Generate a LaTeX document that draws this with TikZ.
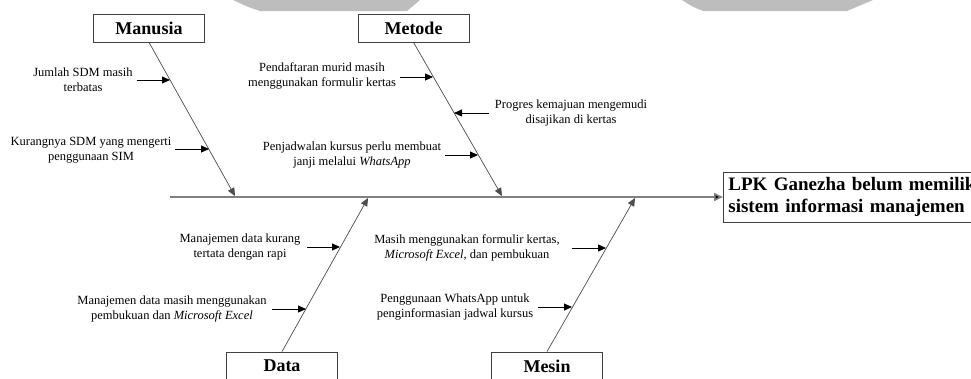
\documentclass[tikz,border=0pt]{standalone}
\usepackage{fontspec}
\setmainfont{Liberation Serif}
\usetikzlibrary{arrows.meta}
\tikzset{
  catbox/.style={draw=black!75, line width=0.8pt, minimum width=111, minimum height=28, inner sep=0pt, font=\fontsize{18}{20}\selectfont\bfseries},
  lbl/.style={align=center, inner sep=0pt, font=\fontsize{12.5}{15}\selectfont},
  bone/.style={draw=black!70, line width=0.7pt, -{Triangle[length=8pt,width=7pt]}},
  spine/.style={draw=black!50, line width=1.6pt, -{Triangle[length=9pt,width=8pt,fill=black]}},
  sub/.style={draw=black, line width=0.8pt, -{Triangle[length=8pt,width=7pt]}},
  wm/.style={fill=black!26, draw=none}
}
\begin{document}
\begin{tikzpicture}[x=1pt,y=-1pt]
\useasboundingbox (0,0) rectangle (971,378);
\clip (0,0) rectangle (971,378);
% grey header shapes
\fill[wm] (233,0) -- (420,0) -- (407,11) -- (260,11) .. controls (248,7) .. (233,0) -- cycle;
\fill[wm] (682,0) -- (873,0) -- (847,11) -- (703,11) .. controls (693,7) .. (682,0) -- cycle;
% category boxes
\node[catbox] (man) at (149,28) {Manusia};
\node[catbox] (met) at (413.5,28) {Metode};
\node[catbox] (dat) at (282,366) {Data};
\node[catbox] (mes) at (547,366) {Mesin};
% effect
\node[draw=black!75, line width=0.8pt, anchor=west, minimum height=50, text width=262, inner xsep=5pt, inner ysep=0pt, align=left,
      font=\fontsize{19}{22}\selectfont\bfseries] (eff) at (723,197) {LPK Ganezha belum memiliki\\sistem informasi manajemen};
% spine
\coordinate (s0) at (170,197);
\draw[spine] (s0) -- (eff.west);
% bone tips
\coordinate (tman) at (235,196);
\coordinate (tmet) at (502,196);
\coordinate (tdat) at (368,198);
\coordinate (tmes) at (635,198);
\draw[bone] (man.south) -- (tman);
\draw[bone] (met.south) -- (tmet);
\draw[bone] (dat.north) -- (tdat);
\draw[bone] (mes.north) -- (tmes);
% Manusia causes
\node[lbl] (l1) at (83,80) {Jumlah SDM masih\\terbatas};
\node[lbl] (l2) at (91,150) {Kurangnya SDM yang mengerti\\penggunaan SIM};
\coordinate (a1) at (137,80);  \coordinate (b1) at (170,80);
\coordinate (a2) at (175,149); \coordinate (b2) at (209,149);
\draw[sub] (a1) -- (b1);
\draw[sub] (a2) -- (b2);
% Metode causes
\node[lbl] (l3) at (322,76) {Pendaftaran murid masih\\menggunakan formulir kertas};
\node[lbl] (l4) at (571,113) {Progres kemajuan mengemudi\\disajikan di kertas};
\node[lbl] (l5) at (352,155) {Penjadwalan kursus perlu membuat\\janji melalui \textit{WhatsApp}};
\coordinate (a3) at (400,77);  \coordinate (b3) at (433,77);
\coordinate (a4) at (489,113); \coordinate (b4) at (454,113);
\coordinate (a5) at (445,155); \coordinate (b5) at (478,155);
\draw[sub] (a3) -- (b3);
\draw[sub] (a4) -- (b4);
\draw[sub] (a5) -- (b5);
% Data causes
\node[lbl] (l6) at (240,247) {Manajemen data kurang\\tertata dengan rapi};
\node[lbl] (l7) at (172,309) {Manajemen data masih menggunakan\\pembukuan dan \textit{Microsoft Excel}};
\coordinate (a6) at (307,247); \coordinate (b6) at (340,247);
\coordinate (a7) at (272,309); \coordinate (b7) at (306,309);
\draw[sub] (a6) -- (b6);
\draw[sub] (a7) -- (b7);
% Mesin causes
\node[lbl] (l8) at (467,248) {Masih menggunakan formulir kertas,\\\textit{Microsoft Excel}, dan pembukuan};
\node[lbl] (l9) at (455,307) {Penggunaan WhatsApp untuk\\penginformasian jadwal kursus};
\coordinate (a8) at (572,248); \coordinate (b8) at (606,248);
\coordinate (a9) at (538,307); \coordinate (b9) at (572,307);
\draw[sub] (a8) -- (b8);
\draw[sub] (a9) -- (b9);
\end{tikzpicture}
\end{document}
